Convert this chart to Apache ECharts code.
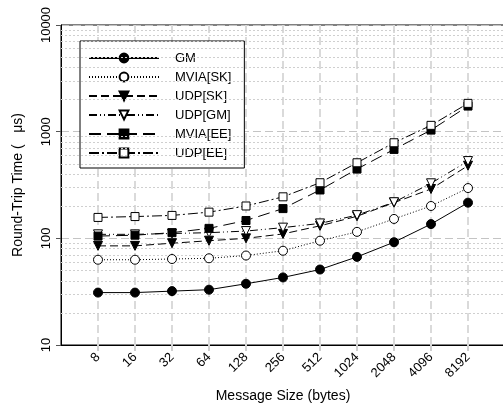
<!DOCTYPE html>
<html>
<head>
<meta charset="utf-8">
<script src="https://cdn.jsdelivr.net/npm/echarts@6/dist/echarts.min.js"></script>
<style>
  html, body { margin: 0; padding: 0; background: #fff; }
  #chart { width: 503px; height: 406px; }
</style>
</head>
<body>
<div id="chart"></div>
<script>
// Message sizes (bytes) shown along the x axis
const sizes = [8, 16, 32, 64, 128, 256, 512, 1024, 2048, 4096, 8192];

// Round-trip times in microseconds
const gm     = [31, 31, 32, 33, 37.5, 43, 51, 67, 92, 136, 216];
const mviaSk = [63, 63, 64, 65, 69, 76.5, 95, 115, 152, 201, 296];
const udpSk  = [85, 85, 90, 95, 100, 110, 131, 161, 216, 290, 480];
const udpGm  = [109, 109, 111, 113, 117, 126, 138, 165, 218, 328, 530];
const mviaEe = [105, 107, 113, 124, 147, 190, 284, 446, 682, 1035, 1738];
const udpEe  = [157, 160, 164, 176, 201, 245, 332, 511, 787, 1146, 1842];

// Dotted minor grid values on the log axis
const minorLines = [20, 30, 40, 50, 60, 70, 80, 90,
                    200, 300, 400, 500, 600, 700, 800, 900,
                    2000, 3000, 4000, 5000, 6000, 7000, 8000, 9000];

const FONT = 'Liberation Sans, Arial, sans-serif';
const pts = arr => arr.map((v, i) => [i, v]);
const tickIdx = sizes.map((s, i) => i);

function lineSeries(name, data, symbol, filled, dash, rotate) {
  return {
    name: name,
    type: 'line',
    data: pts(data),
    symbol: symbol,
    symbolSize: symbol === 'rect' ? 8 : 9,
    symbolRotate: rotate || 0,
    showAllSymbol: true,
    z: 5,
    lineStyle: { color: '#000', width: 1, type: dash },
    itemStyle: {
      color: filled ? '#000' : '#fff',
      borderColor: '#000',
      borderWidth: 1
    },
    emphasis: { disabled: true },
    animation: false
  };
}

const chart = echarts.init(document.getElementById('chart'));
chart.setOption({
  backgroundColor: '#fff',
  animation: false,
  grid: {
    left: 61, top: 25, width: 444, height: 320,
    outerBoundsMode: 'none',
    containLabel: false,
    show: true, borderColor: '#000', borderWidth: 1
  },
  legend: {
    orient: 'vertical',
    left: 80, top: 41,
    padding: [10, 13, 8, 8],
    backgroundColor: '#fff',
    borderColor: '#000',
    borderWidth: 1,
    itemWidth: 70,
    itemHeight: 11,
    itemGap: 5,
    textStyle: { fontFamily: FONT, fontSize: 13, color: '#000', lineHeight: 14, padding: [0, 0, 0, 11] },
    data: ['GM', 'MVIA[SK]', 'UDP[SK]', 'UDP[GM]', 'MVIA[EE]', 'UDP[EE]']
  },
  xAxis: {
    type: 'value',
    min: -1, max: 11, interval: 1,
    name: 'Message Size (bytes)',
    nameLocation: 'middle',
    nameGap: 44,
    nameTextStyle: { fontFamily: FONT, fontSize: 14, color: '#000' },
    axisLine: { onZero: false, lineStyle: { color: '#000', width: 1 } },
    axisTick: {
      length: 6,
      customValues: tickIdx,
      lineStyle: { color: '#d0d0d0', width: 2 }
    },
    axisLabel: {
      rotate: 45,
      margin: 10,
      fontFamily: FONT, fontSize: 13, color: '#000',
      customValues: tickIdx,
      formatter: v => (sizes[v] !== undefined ? String(sizes[v]) : '')
    },
    splitLine: { show: true, lineStyle: { color: '#dadada', width: 2, type: [8, 4] } }
  },
  yAxis: {
    type: 'log',
    logBase: 10,
    min: 10, max: 10000,
    name: 'Round-Trip Time (   μs)',
    nameLocation: 'middle',
    nameGap: 36,
    nameTextStyle: { fontFamily: FONT, fontSize: 14, color: '#000' },
    axisLine: { show: true, onZero: false, lineStyle: { color: '#000', width: 1 } },
    axisTick: { show: true, length: 5, lineStyle: { color: '#555' } },
    axisLabel: {
      rotate: 90, margin: 8, fontFamily: FONT, fontSize: 13, color: '#000',
      formatter: v => String(v)
    },
    splitLine: { show: true, lineStyle: { color: '#c4c4c4', width: 1, type: [8, 4] } }
  },
  series: [
    {
      name: 'grid-minor',
      type: 'line',
      data: [],
      z: 1,
      silent: true,
      markLine: {
        silent: true,
        symbol: 'none',
        label: { show: false },
        animation: false,
        lineStyle: { color: '#cfcfcf', width: 1, type: [2, 2] },
        data: minorLines.map(v => ({ yAxis: v }))
      }
    },
    lineSeries('GM', gm, 'circle', true, 'solid'),
    lineSeries('MVIA[SK]', mviaSk, 'circle', false, [1, 2]),
    lineSeries('UDP[SK]', udpSk, 'triangle', true, [8, 4], 180),
    lineSeries('UDP[GM]', udpGm, 'triangle', false, [8, 3, 1, 3, 1, 3], 180),
    lineSeries('MVIA[EE]', mviaEe, 'rect', true, [12, 6]),
    lineSeries('UDP[EE]', udpEe, 'rect', false, [10, 3, 2, 3])
  ]
});
</script>
</body>
</html>
